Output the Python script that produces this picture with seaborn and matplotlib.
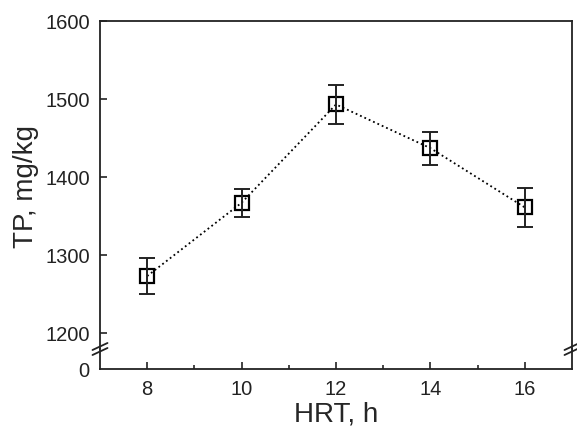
import matplotlib
matplotlib.use("Agg")
import matplotlib.pyplot as plt
import pandas as pd
import seaborn as sns

hrt = [8, 10, 12, 14, 16]
tp = [1273, 1367, 1493, 1437, 1361]
tp_err = [23, 18, 25, 21, 25]
y_ticks = [1200, 1300, 1400, 1500, 1600]
x_ticks = [8, 10, 12, 14, 16]

sns.set_theme(style="ticks")
plt.rcParams["font.family"] = ["Liberation Sans", "DejaVu Sans"]
plt.rcParams["axes.linewidth"] = 1.3
plt.rcParams["xtick.direction"] = "in"
plt.rcParams["ytick.direction"] = "in"

df = pd.DataFrame({"HRT": hrt, "TP": tp, "err": tp_err})

W, H = 577, 427
fig = plt.figure(figsize=(W / 100, H / 100), dpi=100)
left, right = 100 / W, 572 / W
y_bot, y_brk, y_top = 1 - 370 / H, 1 - 350 / H, 1 - 22 / H
ax = fig.add_axes([left, y_brk, right - left, y_top - y_brk])
ax0 = fig.add_axes([left, y_bot, right - left, y_brk - y_bot])

sns.lineplot(data=df, x="HRT", y="TP", ax=ax, color="black", linestyle=":",
             linewidth=1.3, marker="s", markersize=10.5, markerfacecolor="none",
             markeredgecolor="black", markeredgewidth=1.6)
ax.errorbar(df["HRT"], df["TP"], yerr=df["err"], fmt="none", ecolor="#222222",
            elinewidth=1.4, capsize=6, capthick=1.4)

ax.set_xlim(7, 17)
ax.set_ylim(1600 - (350 - 22) / 0.78, 1600)
ax.set_yticks(y_ticks)
ax.set_xticks([])
ax.set_xlabel("")
ax.set_ylabel("TP, mg/kg", fontsize=20, labelpad=5)
ax.spines["bottom"].set_visible(False)
ax.tick_params(axis="y", labelsize=14.5, length=5, width=1.2, pad=7, colors="#222222")

ax0.set_xlim(7, 17)
ax0.set_ylim(0, 100)
ax0.set_yticks([0])
ax0.set_xticks(x_ticks)
ax0.set_xticks([9, 11, 13, 15], minor=True)
ax0.spines["top"].set_visible(False)
ax0.tick_params(axis="both", labelsize=14.5, length=5, width=1.2, pad=7, colors="#222222")
ax0.tick_params(axis="y", length=0, pad=8)
ax0.tick_params(axis="x", which="minor", length=3, width=1.2, direction="in")
ax0.set_xlabel("HRT, h", fontsize=20, labelpad=2)

for a in (ax, ax0):
    for s in a.spines.values():
        s.set_color("#222222")

# break marks on both side spines
hx, hy = 7.5 / W, 3.5 / H
for xf in (left, right):
    for off in (-2.5 / H, 2.5 / H):
        fig.add_artist(plt.Line2D([xf - hx, xf + hx],
                                  [y_brk + off - hy, y_brk + off + hy],
                                  color="#222222", linewidth=1.3,
                                  transform=fig.transFigure))

fig.savefig("out.png", dpi=100)
